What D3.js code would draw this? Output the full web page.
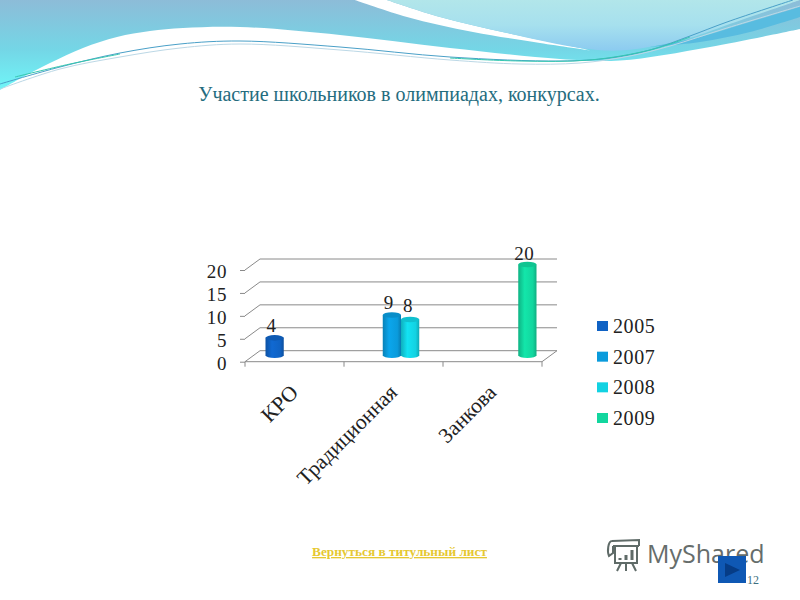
<!DOCTYPE html>
<html><head><meta charset="utf-8">
<style>html,body{margin:0;padding:0;background:#fff}svg{display:block}</style>
<script src="https://cdn.jsdelivr.net/npm/d3@7/dist/d3.min.js"></script>
</head><body>
<svg id="c" width="800" height="600"></svg>
<script>
const categories = ["КРО", "Традиционная", "Занкова"];
const seriesNames = ["2005", "2007", "2008", "2009"];
const seriesColors = ["#0f62c4", "#0a9bdc", "#12d2e2", "#12d69e"];
const values2005 = [4, null, null];
const values2007 = [null, 9, null];
const values2008 = [null, 8, null];
const values2009 = [null, null, 20];
const yTicks = [0, 5, 10, 15, 20];
const seriesValues = [values2005, values2007, values2008, values2009];

const svg = d3.select("#c");
const defs = svg.append("defs");
const vgrad = (id, stops) => {
  const g = defs.append("linearGradient").attr("id", id).attr("x1", 0).attr("x2", 0).attr("y1", 0).attr("y2", 1);
  stops.forEach(s => g.append("stop").attr("offset", s[0]).attr("stop-color", s[1]));
};
vgrad("bgMain", [[0, "#8dbcd8"], [0.55, "#74d6e6"], [1, "#6ff6f8"]]);
vgrad("bgRight", [[0, "#b2e6ea"], [0.5, "#a6e0ee"], [1, "#8ccbf0"]]);

// background swooshes
const curve = d3.line().curve(d3.curveCatmullRom.alpha(0.5));
const seg = pts => curve(pts).slice(1);
const mainEdge = [[800,29],[710,47],[620,60.5],[560,59],[450,48],[340,35],[240,27],[183,28],[150,31],[117,37],[83,48],[50,63],[23,77],[0,90]];
svg.append("path").attr("fill", "url(#bgMain)").attr("d", "M0,0 L800,0 L" + seg(mainEdge) + " Z");

const bandLow = [[355,0],[407,17],[473,32],[540,43],[590,50.5]];
const bandHigh = [[590,50.5],[580,48],[507,33],[440,17],[387,0]];
svg.append("path").attr("fill", "#fff").attr("d", "M" + seg(bandLow) + " L" + seg(bandHigh) + " Z");

const rightBottom = [[387,0],[440,17],[507,33],[580,48],[620,50.5],[660,45],[693,37],[727,25],[800,0]];
svg.append("path").attr("fill", "url(#bgRight)").attr("d", "M" + seg(rightBottom) + " Z");

const stripeTop = [[650,47],[700,37],[750,22],[800,7]];
const stripeBot = [[800,17],[750,32],[700,42],[650,47]];
svg.append("path").attr("fill", "#58bce0").attr("d", "M" + seg(stripeTop) + " L" + seg(stripeBot) + " Z");

const threads = [
  ["#4aa0c8", [[0,84],[60,67],[120,53],[180,44],[240,41],[340,47],[450,57],[560,61],[610,58],[650,50],[690,36],[727,22],[793,0]]],
  ["#bcd8e6", [[0,89],[60,69],[120,57],[180,48],[240,44],[340,50],[450,60],[520,64],[580,63],[630,56],[670,46],[727,28],[800,6]]],
  ["#36c6ae", [[15,77],[70,64],[120,54]]],
  ["#34c8b0", [[450,58],[520,61],[590,60],[650,50],[690,37]]]
];
threads.forEach(d => svg.append("path").attr("d", curve(d[1])).attr("fill", "none").attr("stroke", d[0]).attr("stroke-width", 1));

svg.append("text").attr("x", 399).attr("y", 101).attr("text-anchor", "middle")
  .attr("font-family", "Liberation Serif").attr("font-size", 20).attr("fill", "#246c7e")
  .text("Участие школьников в олимпиадах, конкурсах.");

// chart
const plotLeft = 245, plotRight = 542, plotBottom = 361.7, plotTop = 270;
const depthX = 15, depthY = -11;
const x0 = d3.scaleBand().domain(categories).range([plotLeft, plotRight]);
const x1 = d3.scaleBand().domain(seriesNames).range([13, x0.bandwidth() - 13]);
const y = d3.scaleLinear().domain([0, 20]).range([plotBottom, plotTop]);
const axisColor = "#8a8a8a";
const font = "Liberation Serif";
const g = svg.append("g");

// walls
yTicks.forEach(t => {
  g.append("path").attr("fill", "none").attr("stroke", axisColor).attr("stroke-width", 1)
    .attr("d", d3.line()([[plotLeft, y(t)], [plotLeft + depthX, y(t) + depthY], [plotRight + depthX, y(t) + depthY]]));
});
g.append("line").attr("x1", plotRight).attr("x2", plotRight + depthX)
  .attr("y1", y(0)).attr("y2", y(0) + depthY).attr("stroke", axisColor);

// axes
const yAxis = g.append("g").attr("transform", `translate(${plotLeft},0)`)
  .call(d3.axisLeft(y).tickValues(yTicks).tickSize(5).tickPadding(13));
yAxis.select(".domain").remove();
yAxis.selectAll("line").attr("stroke", axisColor);
yAxis.selectAll("text").attr("font-family", font).attr("font-size", 19).attr("fill", "#222")
  .attr("letter-spacing", 0.6).attr("dy", "0.42em");

const edges = categories.map(c => x0(c)).concat([plotRight]);
g.selectAll(".xt").data(edges).join("line").attr("x1", d => d).attr("x2", d => d)
  .attr("y1", plotBottom).attr("y2", plotBottom + 5).attr("stroke", axisColor);
g.append("line").attr("x1", plotLeft).attr("x2", plotRight).attr("y1", plotBottom).attr("y2", plotBottom).attr("stroke", axisColor);
g.selectAll(".xl").data(categories).join("text")
  .attr("transform", c => `translate(${x0(c) + x0.bandwidth() / 2 + 5},${plotBottom + 32}) rotate(-45)`)
  .attr("text-anchor", "end").attr("font-family", font).attr("font-size", 21.5).attr("fill", "#222")
  .text(c => c);

// cylinders
const labelDx = [-3, -3, -2, -3];
const labelDy = [-6, -6, -8, -5];
seriesNames.forEach((s, i) => {
  const id = "cyl" + i;
  const col = d3.color(seriesColors[i]);
  const lg = defs.append("linearGradient").attr("id", id);
  lg.append("stop").attr("offset", 0).attr("stop-color", col.darker(0.5));
  lg.append("stop").attr("offset", 0.35).attr("stop-color", col.brighter(0.2));
  lg.append("stop").attr("offset", 0.8).attr("stop-color", col);
  lg.append("stop").attr("offset", 1).attr("stop-color", col.darker(0.6));
  categories.forEach((c, k) => {
    const v = seriesValues[i][k];
    if (v === null) return;
    const w = x1.bandwidth();
    const xl = x0(c) + x1(s) + depthX / 2;
    const yb = y(0) + depthY / 2, yt = y(v) + depthY / 2;
    const rx = w / 2, ry = 2.8;
    g.append("path").attr("fill", `url(#${id})`)
      .attr("d", `M${xl},${yt} L${xl},${yb - 1} A${rx},${ry} 0 0 0 ${xl + w},${yb - 1} L${xl + w},${yt} Z`);
    g.append("ellipse").attr("cx", xl + rx).attr("cy", yt).attr("rx", rx).attr("ry", ry)
      .attr("fill", col.darker(0.25));
  });
});
seriesNames.forEach((s, i) => {
  categories.forEach((c, k) => {
    const v = seriesValues[i][k];
    if (v === null) return;
    g.append("text")
      .attr("x", x0(c) + x1(s) + x1.bandwidth() / 2 + depthX / 2 + labelDx[i])
      .attr("y", y(v) + depthY / 2 + labelDy[i])
      .attr("text-anchor", "middle").attr("font-family", font).attr("font-size", 19)
      .attr("fill", "#222").attr("letter-spacing", 0.6).text(v);
  });
});

// legend
const legendY = d3.scalePoint().domain(seriesNames).range([326, 418]);
seriesNames.forEach((s, i) => {
  g.append("rect").attr("x", 597).attr("y", legendY(s) - 5).attr("width", 11).attr("height", 10).attr("fill", seriesColors[i]);
  g.append("text").attr("x", 613).attr("y", legendY(s) + 7).attr("font-family", font).attr("font-size", 20)
    .attr("letter-spacing", 0.6).attr("fill", "#222").text(s);
});

// footer
svg.append("text").attr("x", 399.5).attr("y", 556).attr("text-anchor", "middle")
  .attr("font-family", font).attr("font-size", 13.3).attr("font-weight", "bold")
  .attr("fill", "#e6c832").attr("text-decoration", "underline").text("Вернуться в титульный лист");

// MyShared mark
const logo = svg.append("g").attr("fill", "none").attr("stroke", "#5f6b68").attr("stroke-width", 2);
logo.append("path").attr("d", "M612,541 L639,540 L639,546 M612,541 C608,541 607,552 609,556 L613,553 L613,546 M613,546 L639,546 M615,546 L615,563 L637,563 L637,546");
logo.append("path").attr("d", "M621,563 L617,571 M626,563 L626,571 M632,563 L636,571");
logo.append("path").attr("stroke-width", 3).attr("d", "M620,560 L620,558 M626,560 L626,555 M632,560 L632,550");
svg.append("text").attr("x", 647).attr("y", 563).attr("font-family", "Open Sans").attr("font-size", 25)
  .attr("fill", "#666d6b").text("MyShared");

svg.append("rect").attr("x", 718).attr("y", 556).attr("width", 28).attr("height", 27).attr("fill", "#0f58b4");
svg.append("path").attr("d", "M725,563 L740,570 L725,577 Z").attr("fill", "#063c86");
svg.append("text").attr("x", 747).attr("y", 584).attr("font-family", font).attr("font-size", 12).attr("fill", "#3d6f80").text("12");
</script>
</body></html>
